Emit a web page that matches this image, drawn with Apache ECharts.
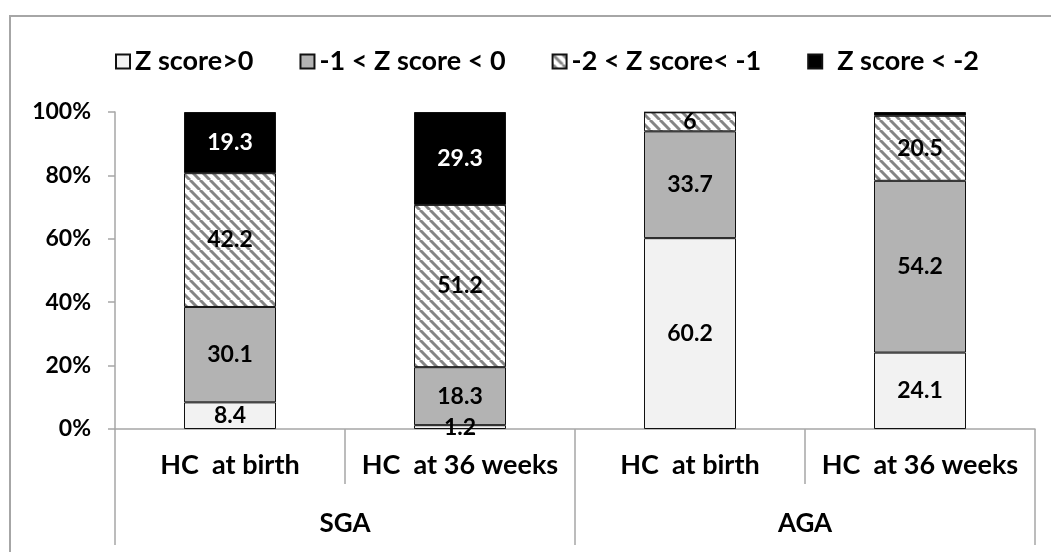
<!DOCTYPE html>
<html>
<head>
<meta charset="utf-8">
<script src="https://cdn.jsdelivr.net/npm/echarts@6/dist/echarts.min.js"></script>
<style>
html, body { margin: 0; padding: 0; background: #fff; }
#chart { width: 1051px; height: 552px; }
</style>
</head>
<body>
<div id="chart"></div>
<script>
var categories = ['HC  at birth', 'HC  at 36 weeks', 'HC  at birth', 'HC  at 36 weeks'];
var groups = ['SGA', 'AGA'];
var seriesNames = ['Z score>0', '-1 < Z score < 0', '-2 < Z score< -1', 'Z score < -2'];
var zAbove0 = [8.4, 1.2, 60.2, 24.1];
var zMinus1To0 = [30.1, 18.3, 33.7, 54.2];
var zMinus2ToMinus1 = [42.2, 51.2, 6, 20.5];
var zBelowMinus2 = [19.3, 29.3, 0, 1.2];
var yTicks = [0, 20, 40, 60, 80, 100];

var FONT = 'Lato';

// diagonal hatch pattern
function hatch() {
	var c = document.createElement('canvas');
	c.width = 10;
	c.height = 10;
	var ctx = c.getContext('2d');
	ctx.fillStyle = '#fff';
	ctx.fillRect(0, 0, 10, 10);
	ctx.strokeStyle = '#858585';
	ctx.lineWidth = 3;
	[-10, 0, 10].forEach(function (o) {
		ctx.beginPath();
		ctx.moveTo(o, 0);
		ctx.lineTo(o + 10, 10);
		ctx.stroke();
	});
	return c;
}

var chart = echarts.init(document.getElementById('chart'));

function makeSeries(name, data, color, labelColor, minShow) {
	return {
		name: name,
		type: 'bar',
		stack: 'all',
		barWidth: '40%',
		data: data,
		itemStyle: { color: color, borderColor: '#111', borderWidth: 1 },
		label: {
			show: true,
			position: 'inside',
			color: labelColor,
			fontFamily: FONT,
			fontWeight: 'bold',
			fontSize: 23,
			formatter: function (p) {
				return p.value >= minShow ? String(p.value) : '';
			}
		}
	};
}

var option = {
	animation: false,
	backgroundColor: '#fff',
	graphic: [{
		type: 'rect',
		shape: { x: 10, y: 16, width: 1200, height: 700 },
		style: { fill: 'none', stroke: '#a6a6a6', lineWidth: 2 },
		silent: true
	}],
	legend: {
		data: [
			{ name: seriesNames[0] },
			{ name: seriesNames[1] },
			{ name: seriesNames[2] },
			{ name: seriesNames[3], textStyle: { padding: [0, 0, 0, 10] } }
		],
		left: 110,
		top: 43,
		itemWidth: 14,
		itemHeight: 14,
		itemGap: 46,
		icon: 'rect',
		textStyle: { fontFamily: FONT, fontWeight: 'bold', fontSize: 27, color: '#000' }
	},
	grid: { left: 115, right: 16, top: 112, bottom: 123 },
	xAxis: [{
		type: 'category',
		data: categories,
		axisLine: { lineStyle: { color: '#a6a6a6', width: 1.5 } },
		axisTick: { show: true, interval: 0, length: 55, lineStyle: { color: '#a6a6a6', width: 1.5 } },
		axisLabel: { interval: 0, margin: 23, color: '#000', fontFamily: FONT, fontWeight: 'bold', fontSize: 27 }
	}, {
		type: 'category',
		data: groups,
		position: 'bottom',
		offset: 55,
		axisLine: { show: false },
		axisTick: { show: true, interval: 0, length: 61, lineStyle: { color: '#a6a6a6', width: 1.5 } },
		axisLabel: { interval: 0, margin: 27, color: '#000', fontFamily: FONT, fontWeight: 'bold', fontSize: 26 }
	}],
	yAxis: {
		type: 'value',
		min: yTicks[0],
		max: yTicks[yTicks.length - 1],
		interval: 20,
		splitLine: { show: false },
		axisLine: { show: true, lineStyle: { color: '#a6a6a6', width: 1.5 } },
		axisTick: { show: true, length: 7, lineStyle: { color: '#a6a6a6', width: 1.5 } },
		axisLabel: { margin: 24, formatter: '{value}%', color: '#000', fontFamily: FONT, fontWeight: 'bold', fontSize: 23 }
	},
	series: [
		makeSeries(seriesNames[0], zAbove0, '#f2f2f2', '#000', 1),
		makeSeries(seriesNames[1], zMinus1To0, '#b3b3b3', '#000', 1),
		makeSeries(seriesNames[2], zMinus2ToMinus1, { image: hatch(), repeat: 'repeat' }, '#000', 1),
		makeSeries(seriesNames[3], zBelowMinus2, '#000', '#fff', 5)
	]
};
chart.setOption(option);
</script>
</body>
</html>
